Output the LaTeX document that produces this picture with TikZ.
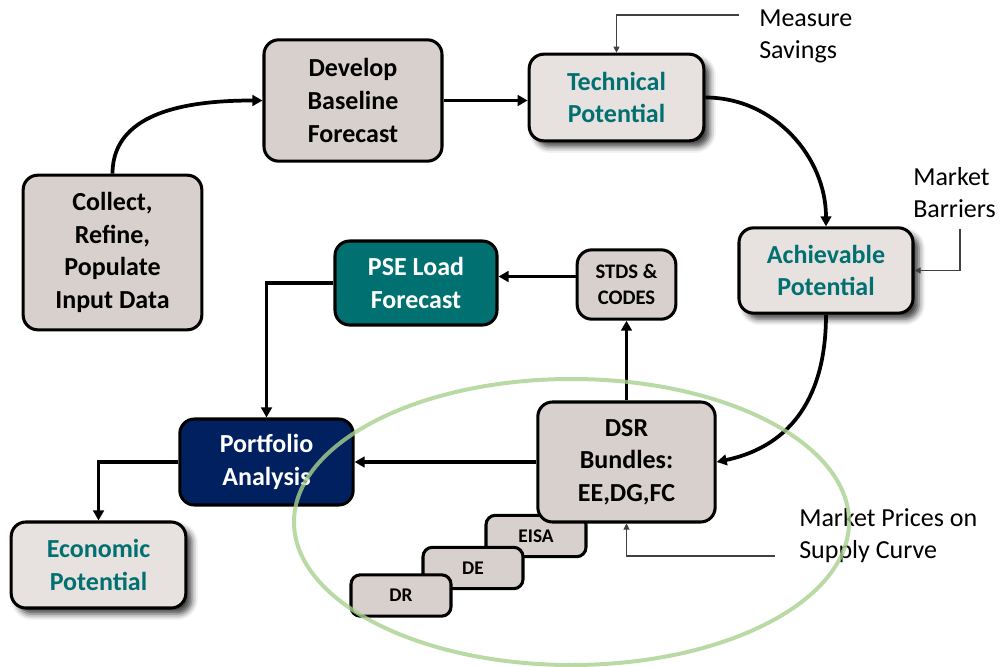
\documentclass[tikz,border=0pt]{standalone}
\usepackage{fontspec}
\setmainfont{Carlito}
\usetikzlibrary{arrows.meta,positioning,shadows.blur}

\definecolor{boxgray}{RGB}{215,208,205}
\definecolor{boxlight}{RGB}{231,225,223}
\definecolor{tealc}{RGB}{0,112,112}
\definecolor{navyc}{RGB}{0,32,96}
\definecolor{ringgreen}{RGB}{169,209,142}

\begin{document}
\begin{tikzpicture}[x=0.75pt,y=-0.75pt,
  stepbox/.style={draw=black,line width=2.3pt,rounded corners=11pt,fill=boxgray,
    align=center,inner sep=2pt,font=\bfseries\fontsize{19.5}{24.4}\selectfont},
  potbox/.style={stepbox,fill=boxlight,text=tealc,
    blur shadow={shadow xshift=4.5pt,shadow yshift=-4.5pt,shadow blur radius=4.5pt,shadow opacity=75}},
  smallbox/.style={stepbox,font=\bfseries\fontsize{15.5}{19.5}\selectfont},
  tagbox/.style={stepbox,rounded corners=7pt,font=\bfseries\fontsize{14.5}{17}\selectfont,
    minimum width=75pt,minimum height=31pt},
  note/.style={align=left,inner sep=0pt,font=\fontsize{19.5}{24}\selectfont},
  flow/.style={line width=2.8pt,-{Triangle[length=7.5pt,width=8pt]}},
  pointer/.style={draw=black!75,line width=0.8pt,-{Triangle[length=4.5pt,width=4.5pt]}}]
  \useasboundingbox (0,0) rectangle (1000,667);

  % Main steps
  \node[stepbox,minimum width=134pt,minimum height=116pt] (collect) at (112.5,252.5)
    {Collect,\\Refine,\\Populate\\Input Data};
  \node[stepbox,minimum width=133.5pt,minimum height=91pt] (develop) at (353,100.5)
    {Develop\\Baseline\\Forecast};
  \node[potbox,minimum width=131pt,minimum height=65pt] (technical) at (616.5,97.5)
    {Technical\\Potential};
  \node[potbox,minimum width=130.5pt,minimum height=64pt] (achievable) at (826,270.5)
    {Achievable\\Potential};
  \node[stepbox,fill=tealc,text=white,minimum width=121.5pt,minimum height=63pt] (pse) at (416,283)
    {PSE Load\\Forecast};
  \node[smallbox,minimum width=74pt,minimum height=52pt] (stds) at (626.5,284.5)
    {STDS \&\\CODES};
  \node[stepbox,fill=navyc,text=white,minimum width=130pt,minimum height=64.5pt] (portfolio) at (266.5,462)
    {Portfolio\\Analysis};
  \node[potbox,minimum width=131pt,minimum height=64.5pt] (economic) at (98.5,565)
    {Economic\\Potential};

  % DSR bundle and its steps
  \node[tagbox] (eisa) at (536,536) {EISA};
  \node[stepbox,minimum width=133pt,minimum height=90pt] (dsr) at (626.5,462)
    {DSR\\Bundles:\\EE,DG,FC};
  \node[tagbox] (de) at (473,568) {DE};
  \node[tagbox] (dr) at (401,595.5) {DR};

  % Flow
  \draw[flow] (collect.north) to[out=90,in=180] (develop.west);
  \draw[flow] (develop.east) -- (develop.east -| technical.west);
  \draw[flow] (technical.east) to[out=0,in=90] (achievable.north);
  \draw[flow] (achievable.south) to[out=-90,in=12,looseness=1.1] (dsr.east);
  \draw[flow] (dsr.north) -- (stds.south);
  \draw[flow] ([yshift=6pt]stds.west) -- ([yshift=6pt]stds.west -| pse.east);
  \draw[flow] (pse.west) -| (portfolio.north);
  \draw[flow] (dsr.west) -- (portfolio.east);
  \draw[flow] (portfolio.west) -| (economic.north);

  % Notes
  \node[note,anchor=west] (savings) at (759,36) {Measure\\Savings};
  \node[note,anchor=west] (barriers) at (913,193) {Market\\Barriers};
  \node[note,anchor=west] (prices) at (799,536) {Market Prices on\\Supply Curve};
  \coordinate (savingsend) at (739,15);
  \coordinate (barriersend) at (960,229);
  \coordinate (pricesend) at (775,556);
  \draw[pointer] (savingsend) -| (technical.north);
  \draw[pointer] (barriersend) |- (achievable.east);
  \draw[pointer] (pricesend) -| (dsr.south);

  % Ring round the DSR bundles
  \draw[ringgreen,line width=3pt,opacity=0.8] (571.5,522) ellipse (277.5 and 143);
\end{tikzpicture}
\end{document}
